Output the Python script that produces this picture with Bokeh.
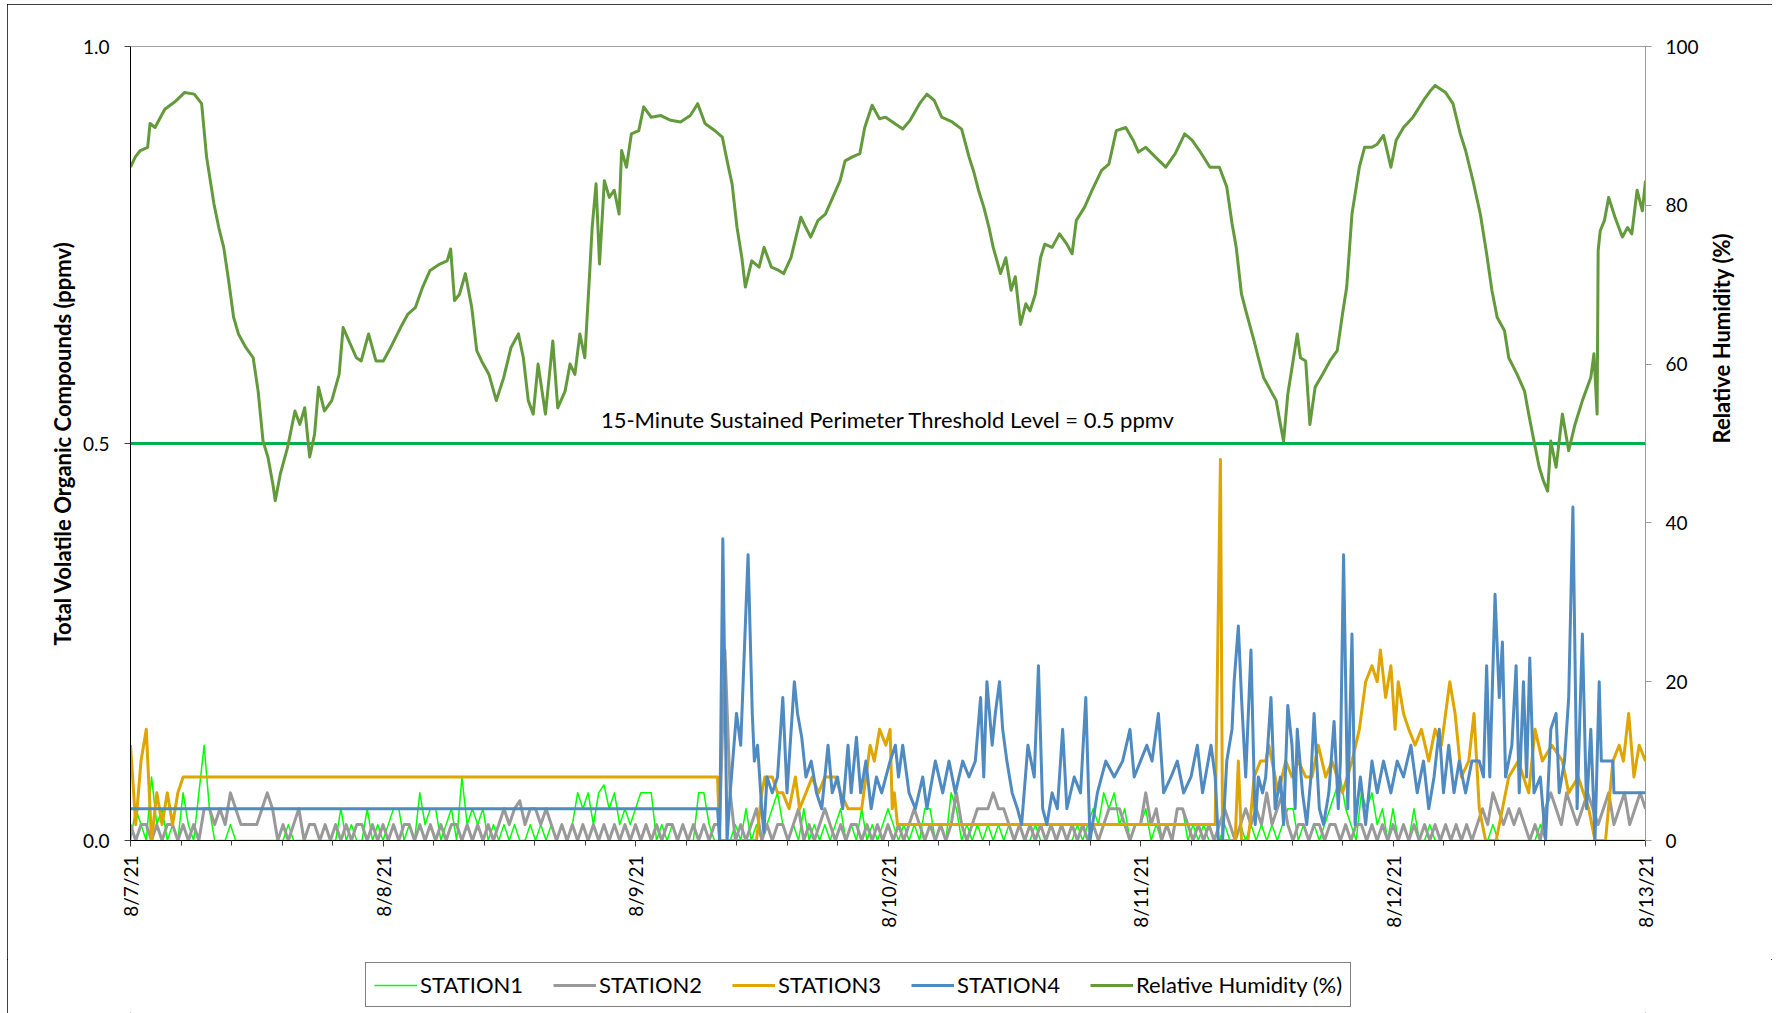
import math
from bokeh.plotting import figure
from bokeh.layouts import column
from bokeh.models import (Range1d, LinearAxis, FixedTicker, Span, Label,
                          Legend, LegendItem)
from bokeh.embed import file_html
from bokeh.resources import INLINE

# ---------------- data (hours since 8/7/21 00:00) ----------------
TICK_HOURS = [0, 24, 48, 72, 96, 120, 144]
TICK_LABELS = ["8/7/21", "8/8/21", "8/9/21", "8/10/21", "8/11/21", "8/12/21", "8/13/21"]
MINOR_TICK_HOURS = [i * 4.8 for i in range(31)]
Y_TICKS = [0, 0.5, 1.0]
Y_TICK_LABELS = ["0.0", "0.5", "1.0"]
RH_TICKS = [0, 20, 40, 60, 80, 100]
THRESHOLD = 0.5
THRESHOLD_TEXT = "15-Minute Sustained Perimeter Threshold Level = 0.5 ppmv"
SERIES_NAMES = ["STATION1", "STATION2", "STATION3", "STATION4", "Relative Humidity (%)"]

STATION_STEP_H = 0.5  # STATION1 / STATION2 read every half hour

STATION1 = [
    0.0, 0.04, 0.02, 0.0, 0.08, 0.02, 0.04, 0.0, 0.02, 0.0,
    0.06, 0.02, 0.0, 0.06, 0.12, 0.04, 0.0, 0.0, 0.0, 0.02,
    0.0, 0.0, 0.0, 0.0, 0.0, 0.0, 0.0, 0.0, 0.0, 0.0,
    0.02, 0.0, 0.0, 0.0, 0.0, 0.0, 0.0, 0.0, 0.0, 0.0,
    0.04, 0.0, 0.02, 0.0, 0.0, 0.04, 0.0, 0.02,
    0.0, 0.02, 0.04, 0.04, 0.0, 0.02, 0.0, 0.06, 0.02, 0.04,
    0.04, 0.0, 0.02, 0.04, 0.0, 0.08, 0.02, 0.04, 0.02, 0.04,
    0.0, 0.02, 0.0, 0.02, 0.0, 0.02, 0.0, 0.0, 0.02, 0.0,
    0.02, 0.0, 0.02, 0.0, 0.02, 0.0, 0.02, 0.06, 0.04, 0.06,
    0.02, 0.06, 0.07, 0.04, 0.06, 0.02, 0.04, 0.02,
    0.04, 0.06, 0.06, 0.06, 0.0, 0.02, 0.0, 0.02, 0.0, 0.02,
    0.0, 0.0, 0.06, 0.06, 0.02, 0.0, 0.0, 0.0, 0.0, 0.02,
    0.0, 0.04, 0.0, 0.02, 0.0, 0.02, 0.04, 0.06, 0.02, 0.0,
    0.02, 0.0, 0.04, 0.0, 0.02, 0.0, 0.02, 0.0, 0.02, 0.04,
    0.0, 0.02, 0.0, 0.04, 0.0, 0.02, 0.0, 0.02,
    0.04, 0.02, 0.0, 0.02, 0.0, 0.02, 0.0, 0.04, 0.04, 0.0,
    0.02, 0.0, 0.06, 0.04, 0.0, 0.02, 0.0, 0.02, 0.0, 0.02,
    0.0, 0.02, 0.0, 0.02, 0.0, 0.02, 0.0, 0.0, 0.02, 0.0,
    0.0, 0.02, 0.0, 0.02, 0.0, 0.0, 0.02, 0.0, 0.02, 0.04,
    0.02, 0.06, 0.04, 0.06, 0.02, 0.04, 0.0, 0.02,
    0.02, 0.04, 0.0, 0.02, 0.0, 0.02, 0.0, 0.04, 0.04, 0.0,
    0.02, 0.0, 0.02, 0.0, 0.0, 0.0, 0.02, 0.0, 0.0, 0.02,
    0.0, 0.02, 0.0, 0.02, 0.0, 0.02, 0.0, 0.02, 0.04, 0.04,
    0.0, 0.02, 0.0, 0.02, 0.0, 0.02, 0.04, 0.06, 0.08, 0.04,
    0.02, 0.0, 0.06, 0.04, 0.06, 0.02, 0.04, 0.0,
    0.04, 0.0, 0.02, 0.0, 0.04, 0.0, 0.0, 0.02, 0.0, 0.0,
    0.02, 0.0, 0.0, 0.0, 0.02, 0.0, 0.0, 0.0, 0.0, 0.02,
    0.0, 0.0, 0.0, 0.0, 0.0, 0.0, 0.0, 0.0, 0.02, 0.0,
    0.0, 0.0, 0.0, 0.0, 0.0, 0.0, 0.0, 0.0, 0.0, 0.0,
    0.0, 0.0, 0.0, 0.0, 0.0, 0.0, 0.0, 0.0, 0.0,
]

STATION2 = [
    0.02, 0.0, 0.02, 0.02, 0.0, 0.02, 0.0, 0.02, 0.02, 0.0,
    0.02, 0.0, 0.02, 0.0, 0.04, 0.04, 0.02, 0.04, 0.02, 0.06,
    0.04, 0.02, 0.02, 0.02, 0.02, 0.04, 0.06, 0.04, 0.0, 0.02,
    0.0, 0.02, 0.04, 0.0, 0.02, 0.02, 0.0, 0.02, 0.0, 0.02,
    0.0, 0.02, 0.0, 0.02, 0.02, 0.0, 0.02, 0.0,
    0.02, 0.0, 0.02, 0.0, 0.02, 0.02, 0.0, 0.02, 0.0, 0.02,
    0.0, 0.02, 0.0, 0.02, 0.02, 0.0, 0.02, 0.0, 0.02, 0.0,
    0.02, 0.0, 0.02, 0.04, 0.02, 0.04, 0.05, 0.02, 0.04, 0.04,
    0.02, 0.04, 0.02, 0.0, 0.02, 0.0, 0.02, 0.0, 0.02, 0.0,
    0.02, 0.0, 0.02, 0.0, 0.02, 0.0, 0.02, 0.0,
    0.02, 0.0, 0.02, 0.0, 0.02, 0.0, 0.02, 0.02, 0.0, 0.02,
    0.0, 0.02, 0.0, 0.02, 0.0, 0.02, 0.02, 0.24, 0.06, 0.0,
    0.02, 0.0, 0.02, 0.04, 0.0, 0.02, 0.0, 0.02, 0.02, 0.0,
    0.02, 0.04, 0.0, 0.02, 0.0, 0.02, 0.04, 0.02, 0.0, 0.02,
    0.0, 0.02, 0.02, 0.0, 0.02, 0.0, 0.02, 0.0,
    0.02, 0.0, 0.02, 0.0, 0.02, 0.04, 0.02, 0.0, 0.02, 0.0,
    0.02, 0.0, 0.02, 0.06, 0.02, 0.0, 0.02, 0.04, 0.04, 0.04,
    0.06, 0.04, 0.04, 0.02, 0.0, 0.02, 0.0, 0.02, 0.0, 0.02,
    0.0, 0.02, 0.0, 0.02, 0.0, 0.02, 0.0, 0.02, 0.0, 0.02,
    0.0, 0.02, 0.04, 0.04, 0.04, 0.02, 0.0, 0.02,
    0.02, 0.06, 0.02, 0.04, 0.0, 0.02, 0.0, 0.04, 0.04, 0.02,
    0.0, 0.02, 0.0, 0.02, 0.0, 0.02, 0.04, 0.02, 0.0, 0.02,
    0.04, 0.02, 0.04, 0.02, 0.06, 0.02, 0.04, 0.06, 0.02, 0.0,
    0.02, 0.02, 0.0, 0.02, 0.02, 0.0, 0.02, 0.02, 0.0, 0.02,
    0.0, 0.02, 0.02, 0.0, 0.02, 0.0, 0.02, 0.0,
    0.02, 0.0, 0.02, 0.0, 0.02, 0.0, 0.02, 0.0, 0.02, 0.0,
    0.02, 0.0, 0.02, 0.0, 0.02, 0.0, 0.02, 0.04, 0.02, 0.06,
    0.04, 0.02, 0.04, 0.02, 0.04, 0.02, 0.0, 0.02, 0.0, 0.04,
    0.06, 0.04, 0.02, 0.06, 0.04, 0.02, 0.04, 0.06, 0.04, 0.02,
    0.04, 0.06, 0.02, 0.04, 0.06, 0.02, 0.04, 0.06, 0.04,
]

# (hour, ppmv) readings
STATION3 = [
    (0, 0.12), (0.5, 0.02), (1.0, 0.10), (1.5, 0.14), (2.0, 0.0), (2.5, 0.06),
    (3.0, 0.02), (3.5, 0.06), (4.0, 0.02), (4.5, 0.06), (5.0, 0.08), (55.8, 0.08),
    (56.0, 0.0), (59.5, 0.0), (60.0, 0.06), (60.3, 0.08), (61.0, 0.08), (61.5, 0.06),
    (62.0, 0.06), (62.6, 0.04), (63.2, 0.08), (63.6, 0.04), (64.2, 0.06), (64.8, 0.08),
    (65.4, 0.06), (66.0, 0.08), (67.0, 0.08), (67.5, 0.06), (68.2, 0.04), (69.5, 0.04),
    (69.9, 0.08), (70.3, 0.12), (70.7, 0.10), (71.2, 0.14), (71.8, 0.12), (72.2, 0.14),
    (72.4, 0.04), (72.6, 0.06), (72.9, 0.02), (103.1, 0.02), (103.6, 0.48), (103.8, 0.0),
    (105.0, 0.0), (105.3, 0.10), (105.6, 0.0), (106.2, 0.0), (106.4, 0.02), (106.8, 0.08),
    (107.4, 0.10), (107.9, 0.10), (108.2, 0.12), (108.5, 0.10), (109.1, 0.06), (109.8, 0.10),
    (110.4, 0.08), (111.0, 0.10), (111.7, 0.08), (112.3, 0.08), (112.9, 0.12), (113.6, 0.08),
    (114.2, 0.10), (115.2, 0.06), (116.1, 0.10), (116.8, 0.14), (117.4, 0.20), (118.0, 0.22),
    (118.5, 0.20), (118.8, 0.24), (119.3, 0.18), (119.8, 0.22), (120.2, 0.14), (120.5, 0.20),
    (121.0, 0.16), (121.5, 0.14), (122.1, 0.12), (122.7, 0.14), (123.4, 0.10), (124.0, 0.14),
    (124.6, 0.12), (125.4, 0.20), (125.9, 0.16), (126.5, 0.08), (127.2, 0.10), (127.7, 0.16),
    (128.2, 0.04), (128.8, 0.0), (129.8, 0.0), (130.4, 0.04), (131.0, 0.08), (131.9, 0.10),
    (132.9, 0.06), (133.5, 0.14), (134.2, 0.10), (135.1, 0.12), (136.1, 0.10), (136.7, 0.06),
    (137.6, 0.08), (138.6, 0.04), (139.2, 0.0), (140.2, 0.0), (140.9, 0.10), (141.5, 0.12),
    (141.9, 0.10), (142.4, 0.16), (142.9, 0.08), (143.4, 0.12), (144.0, 0.10),
]

STATION4 = [
    (0, 0.04), (55.8, 0.04), (56.0, 0.0), (56.3, 0.38), (56.7, 0.0), (57.0, 0.06),
    (57.6, 0.16), (58.0, 0.12), (58.7, 0.36), (59.1, 0.16), (59.3, 0.10), (59.6, 0.12),
    (60.0, 0.04), (60.2, 0.01), (60.5, 0.08), (61.0, 0.06), (61.5, 0.08), (62.0, 0.18),
    (62.4, 0.06), (63.1, 0.20), (63.4, 0.16), (63.8, 0.13), (64.2, 0.08), (64.7, 0.10),
    (65.2, 0.06), (65.7, 0.04), (66.3, 0.12), (66.7, 0.06), (67.2, 0.08), (67.7, 0.04),
    (68.2, 0.12), (68.5, 0.06), (69.0, 0.13), (69.4, 0.06), (69.9, 0.10), (70.4, 0.04),
    (70.9, 0.08), (71.4, 0.06), (71.8, 0.08), (72.2, 0.10), (72.7, 0.12), (73.0, 0.08),
    (73.4, 0.12), (74.0, 0.06), (74.6, 0.04), (75.3, 0.08), (75.7, 0.04), (76.5, 0.10),
    (77.2, 0.06), (77.8, 0.10), (78.4, 0.06), (79.1, 0.10), (79.7, 0.08), (80.3, 0.10),
    (80.8, 0.18), (81.1, 0.08), (81.4, 0.20), (81.9, 0.12), (82.2, 0.16), (82.6, 0.20),
    (82.9, 0.14), (83.3, 0.10), (83.8, 0.06), (84.3, 0.04), (84.7, 0.02), (85.3, 0.12),
    (85.9, 0.08), (86.3, 0.22), (86.7, 0.04), (87.1, 0.02), (87.6, 0.06), (88.1, 0.04),
    (88.6, 0.14), (89.0, 0.04), (89.7, 0.08), (90.3, 0.06), (90.8, 0.18), (91.2, 0.0),
    (91.9, 0.06), (92.7, 0.10), (93.5, 0.08), (94.3, 0.10), (95.0, 0.14), (95.4, 0.08),
    (96.0, 0.10), (96.6, 0.12), (97.1, 0.10), (97.7, 0.16), (98.2, 0.06), (98.9, 0.08),
    (99.5, 0.10), (100.1, 0.06), (100.8, 0.08), (101.4, 0.12), (101.9, 0.06), (102.7, 0.12),
    (103.1, 0.08), (103.4, 0.0), (103.8, 0.0), (104.2, 0.10), (104.7, 0.14), (104.9, 0.20),
    (105.3, 0.27), (105.6, 0.18), (106.0, 0.08), (106.5, 0.24), (106.9, 0.02), (107.2, 0.08),
    (107.6, 0.06), (107.9, 0.08), (108.4, 0.18), (108.8, 0.04), (109.3, 0.08), (109.6, 0.02),
    (110.0, 0.17), (110.4, 0.12), (110.7, 0.04), (110.9, 0.14), (111.4, 0.06), (111.8, 0.02),
    (112.2, 0.08), (112.5, 0.16), (113.0, 0.04), (113.4, 0.02), (113.9, 0.06), (114.4, 0.15),
    (114.8, 0.04), (115.0, 0.10), (115.3, 0.36), (115.7, 0.04), (116.1, 0.26), (116.4, 0.02),
    (116.9, 0.08), (117.4, 0.02), (118.0, 0.10), (118.5, 0.06), (119.1, 0.10), (119.8, 0.06),
    (120.4, 0.10), (121.0, 0.08), (121.7, 0.12), (122.3, 0.06), (122.9, 0.10), (123.4, 0.04),
    (123.9, 0.08), (124.4, 0.14), (124.8, 0.06), (125.3, 0.12), (125.8, 0.06), (126.3, 0.10),
    (126.9, 0.06), (127.5, 0.10), (128.2, 0.10), (128.6, 0.08), (128.9, 0.22), (129.2, 0.08),
    (129.7, 0.31), (130.1, 0.18), (130.4, 0.25), (130.7, 0.08), (131.3, 0.12), (131.7, 0.22),
    (132.0, 0.06), (132.4, 0.20), (132.7, 0.08), (133.0, 0.23), (133.4, 0.06), (134.0, 0.08),
    (134.5, 0.0), (135.0, 0.14), (135.5, 0.16), (135.8, 0.06), (136.3, 0.10), (136.7, 0.18),
    (137.1, 0.42), (137.5, 0.04), (138.0, 0.26), (138.4, 0.04), (138.8, 0.14), (139.2, 0.0),
    (139.6, 0.20), (139.8, 0.10), (140.9, 0.10), (141.0, 0.06), (144.0, 0.06),
]

# (hour, % relative humidity) readings
RELATIVE_HUMIDITY = [
    (0.0, 84.8), (0.46, 86.1), (0.93, 86.9), (1.63, 87.3), (1.86, 90.3), (2.33, 89.8),
    (3.26, 92.1), (4.19, 93.0), (5.13, 94.2), (6.06, 94.0), (6.76, 92.8), (7.23, 86.1),
    (7.93, 80.2), (8.39, 77.2), (8.86, 74.7), (9.33, 70.5), (9.80, 65.9), (10.26, 63.8),
    (10.96, 62.1), (11.66, 60.8), (12.13, 56.6), (12.60, 50.3), (13.06, 48.3), (13.53, 44.9),
    (13.76, 42.8), (14.23, 46.1), (14.93, 49.5), (15.63, 54.1), (16.10, 52.4), (16.56, 54.5),
    (17.03, 48.3), (17.50, 51.2), (17.87, 57.1), (18.43, 54.1), (19.13, 55.4), (19.83, 58.7),
    (20.21, 64.6), (20.77, 62.9), (21.47, 60.8), (21.93, 60.4), (22.63, 63.8), (23.33, 60.4),
    (24.03, 60.4), (24.73, 62.1), (25.67, 64.6), (26.37, 66.3), (27.07, 67.1), (27.77, 69.7),
    (28.47, 71.8), (29.40, 72.6), (30.10, 73.0), (30.43, 74.5), (30.80, 68.0), (31.27, 68.8),
    (31.83, 71.4), (32.44, 67.1), (32.91, 61.7), (33.37, 60.4), (34.07, 58.7), (34.77, 55.4),
    (35.47, 58.3), (36.17, 62.1), (36.87, 63.8), (37.34, 60.8), (37.81, 55.4), (38.28, 53.7),
    (38.74, 60.0), (39.44, 53.7), (40.14, 62.9), (40.61, 54.5), (41.31, 56.6), (41.78, 60.0),
    (42.24, 58.7), (42.71, 63.8), (43.18, 60.8), (43.64, 71.4), (43.88, 77.2), (44.25, 82.7),
    (44.58, 72.6), (45.04, 83.1), (45.51, 81.0), (45.98, 81.9), (46.44, 78.9), (46.68, 86.9),
    (47.14, 84.8), (47.61, 89.0), (48.31, 89.4), (48.78, 92.4), (49.48, 91.1), (50.41, 91.3),
    (51.35, 90.7), (52.28, 90.5), (53.21, 91.3), (53.91, 92.8), (54.61, 90.3), (55.55, 89.4),
    (56.25, 88.6), (56.71, 85.6), (57.18, 82.7), (57.65, 77.2), (58.11, 73.4), (58.44, 69.7),
    (59.05, 73.0), (59.75, 72.2), (60.22, 74.7), (60.92, 72.2), (61.62, 71.8), (62.08, 71.4),
    (62.78, 73.4), (63.25, 76.0), (63.72, 78.5), (64.19, 77.2), (64.65, 76.0), (65.35, 78.1),
    (66.05, 78.9), (66.75, 81.0), (67.45, 83.1), (67.92, 85.6), (68.62, 86.1), (69.32, 86.5),
    (69.79, 89.8), (70.49, 92.6), (71.19, 90.9), (71.77, 91.1), (73.4, 89.6), (74.1, 90.7),
    (75.0, 92.8), (75.7, 94.0), (76.4, 93.2), (77.1, 91.1), (78.1, 90.5), (79.0, 89.6),
    (79.7, 86.1), (80.2, 84.0), (80.6, 81.9), (81.1, 79.8), (81.6, 77.2), (82.0, 74.7),
    (82.7, 71.4), (83.2, 73.4), (83.7, 69.3), (84.1, 71.0), (84.6, 65.0), (85.1, 67.6),
    (85.5, 66.7), (86.0, 68.8), (86.5, 73.4), (86.9, 75.1), (87.6, 74.7), (88.3, 76.4),
    (89.0, 75.1), (89.5, 73.9), (89.9, 78.1), (90.7, 79.8), (91.4, 81.9), (92.3, 84.4),
    (93.0, 85.2), (93.7, 89.4), (94.6, 89.8), (95.3, 88.2), (95.8, 86.7), (96.5, 87.3),
    (97.4, 86.1), (98.4, 84.8), (99.3, 86.5), (100.2, 89.0), (100.9, 88.2), (101.6, 86.9),
    (102.6, 84.8), (103.5, 84.8), (104.2, 82.3), (104.7, 77.7), (105.1, 74.7), (105.6, 68.8),
    (106.1, 66.3), (106.8, 62.9), (107.2, 60.8), (107.7, 58.3), (108.4, 56.6), (108.9, 55.4),
    (109.3, 52.4), (109.6, 50.3), (110.0, 56.2), (110.5, 60.4), (110.9, 63.8), (111.2, 60.8),
    (111.7, 60.4), (112.1, 52.4), (112.6, 57.1), (113.3, 58.7), (114.0, 60.4), (114.7, 61.7),
    (115.2, 66.3), (115.6, 69.7), (116.1, 78.9), (116.8, 84.8), (117.3, 87.3), (118.0, 87.3),
    (118.5, 87.7), (119.1, 88.8), (119.8, 84.8), (120.3, 88.2), (121.0, 89.8), (121.9, 91.1),
    (122.9, 93.2), (123.6, 94.5), (124.0, 95.1), (125.0, 94.2), (125.7, 92.8), (126.4, 89.0),
    (126.9, 86.9), (127.6, 83.1), (128.3, 78.9), (128.9, 73.9), (129.4, 69.3), (129.9, 65.9),
    (130.6, 64.2), (131.0, 60.8), (131.8, 58.7), (132.5, 56.6), (132.9, 53.7), (133.4, 50.3),
    (133.9, 47.0), (134.3, 45.3), (134.7, 44.0), (135.0, 50.3), (135.5, 47.0), (136.1, 53.7),
    (136.7, 49.1), (137.3, 52.4), (138.0, 55.4), (138.8, 58.3), (139.1, 61.3), (139.4, 53.7),
    (139.5, 74.3), (139.7, 76.8), (140.1, 78.1), (140.5, 81.0), (141.1, 78.5), (141.8, 76.0),
    (142.3, 77.2), (142.7, 76.4), (143.2, 81.9), (143.7, 79.3), (144.0, 83.1),
]

# ---------------- styling ----------------
FONT = "Lato"
COLORS = ["#00FF00", "#999999", "#DFA500", "#4F8AC0", "#639A3C"]
WIDTHS = [1.5, 3, 3, 3, 3]
C_THRESH = "#00B050"

p = figure(width=1765, height=955, output_backend="svg", toolbar_location=None,
           x_range=Range1d(0, 144), y_range=Range1d(0, 1),
           min_border_left=123, min_border_right=127, min_border_top=42,
           min_border_bottom=119)
p.extra_y_ranges = {"rh": Range1d(0, 100)}
p.xgrid.visible = False
p.ygrid.visible = False
p.outline_line_color = "#A0A0A0"
p.outline_line_width = 1
p.background_fill_color = "white"
p.border_fill_color = "white"

# x axis
xa = p.xaxis[0]
xa.ticker = FixedTicker(ticks=TICK_HOURS, minor_ticks=MINOR_TICK_HOURS)
xa.major_label_overrides = {h: lab for h, lab in zip(TICK_HOURS, TICK_LABELS)}
xa.major_label_orientation = math.pi / 2
xa.major_tick_in = 0
xa.major_tick_out = 6
xa.minor_tick_in = 0
xa.minor_tick_out = 5
xa.axis_line_color = "#000000"
xa.major_tick_line_color = "#404040"
xa.minor_tick_line_color = "#404040"
xa.major_label_standoff = 9
xa.major_label_text_font = FONT
xa.major_label_text_font_size = "19px"
xa.major_label_text_color = "#000000"

# left axis
ya = p.yaxis[0]
ya.ticker = FixedTicker(ticks=Y_TICKS)
ya.major_label_overrides = {t: lab for t, lab in zip(Y_TICKS, Y_TICK_LABELS)}
ya.minor_tick_line_color = None
ya.major_tick_in = 0
ya.major_tick_out = 6
ya.axis_line_color = "#000000"
ya.major_tick_line_color = "#404040"
ya.major_label_standoff = 15
ya.major_label_text_font = FONT
ya.major_label_text_font_size = "19px"
ya.major_label_text_color = "#000000"
ya.axis_label = "Total Volatile Organic Compounds (ppmv)"
ya.axis_label_text_font = FONT
ya.axis_label_text_font_style = "bold"
ya.axis_label_text_font_size = "22px"
ya.axis_label_text_color = "#000000"
ya.axis_label_standoff = 4

# right axis
ra = LinearAxis(y_range_name="rh", ticker=FixedTicker(ticks=RH_TICKS))
ra.minor_tick_line_color = None
ra.major_tick_in = 0
ra.major_tick_out = 6
ra.axis_line_color = "#999999"
ra.major_tick_line_color = "#999999"
ra.major_label_standoff = 14
ra.major_label_text_font = FONT
ra.major_label_text_font_size = "19px"
ra.major_label_text_color = "#000000"
ra.axis_label = "Relative Humidity (%)"
ra.axis_label_text_font = FONT
ra.axis_label_text_font_style = "bold"
ra.axis_label_text_font_size = "22px"
ra.axis_label_text_color = "#000000"
ra.axis_label_standoff = 20
if hasattr(ra, "axis_label_orientation"):
    ra.axis_label_orientation = math.pi / 2   # read bottom-to-top like the left title
p.add_layout(ra, "right")

# threshold
span = Span(location=THRESHOLD, dimension="width", line_color=C_THRESH, line_width=3,
            level="underlay")
p.add_layout(span)
p.add_layout(Label(x=72, y=THRESHOLD, y_offset=24, text=THRESHOLD_TEXT,
                   text_align="center", text_baseline="middle",
                   text_font=FONT, text_font_size="22px", text_color="#000000"))

# series
def hours_of(readings):
    return [h for h, v in readings]

def values_of(readings):
    return [v for h, v in readings]

p.line([i * STATION_STEP_H for i in range(len(STATION1))], STATION1,
       line_color=COLORS[0], line_width=WIDTHS[0], line_join="round")
p.line([i * STATION_STEP_H for i in range(len(STATION2))], STATION2,
       line_color=COLORS[1], line_width=WIDTHS[1], line_join="round")
p.line(hours_of(STATION3), values_of(STATION3),
       line_color=COLORS[2], line_width=WIDTHS[2], line_join="round")
p.line(hours_of(STATION4), values_of(STATION4),
       line_color=COLORS[3], line_width=WIDTHS[3], line_join="round")
p.line(hours_of(RELATIVE_HUMIDITY), values_of(RELATIVE_HUMIDITY),
       y_range_name="rh", line_color=COLORS[4], line_width=WIDTHS[4], line_join="round")

# legend strip (separate figure below the chart so it is not clipped by the frame)
lg = figure(width=1765, height=54, output_backend="svg", toolbar_location=None,
            x_range=Range1d(0, 1), y_range=Range1d(0, 1),
            x_axis_location=None, y_axis_location=None,
            min_border_left=0, min_border_right=0, min_border_top=0, min_border_bottom=0)
lg.xgrid.visible = False
lg.ygrid.visible = False
lg.outline_line_color = None
lg.background_fill_color = "white"
lg.border_fill_color = "white"
items = []
for name, col, w in zip(SERIES_NAMES, COLORS, WIDTHS):
    key = lg.line([float("nan")], [float("nan")], line_color=col, line_width=w)
    items.append(LegendItem(label=name, renderers=[key]))
legend = Legend(items=items, orientation="horizontal", location=(235, 6),
                padding=8, spacing=3, margin=0, label_width=130,
                glyph_width=43, label_standoff=3,
                border_line_color="#000000", border_line_width=1,
                background_fill_color="white", background_fill_alpha=1,
                label_text_font=FONT, label_text_font_size="22px",
                label_text_color="#000000")
lg.add_layout(legend)

layout = column(p, lg, spacing=0,
                styles={"margin-left": "7px", "margin-top": "4px",
                        "outline": "1px solid #000000", "outline-offset": "-1px"})

open("out.html", "w").write(file_html(layout, INLINE))
